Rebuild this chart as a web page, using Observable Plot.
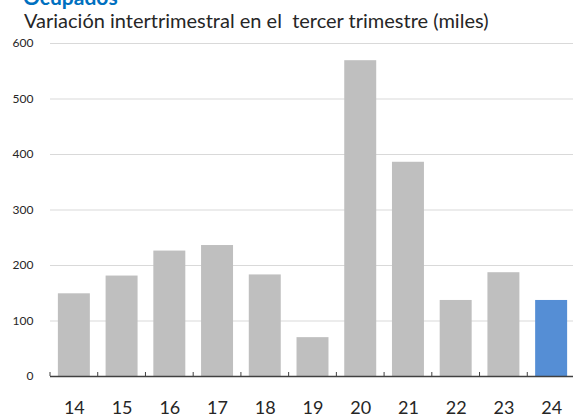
<!DOCTYPE html>
<html><head><meta charset="utf-8">
<script src="https://cdn.jsdelivr.net/npm/d3@7"></script>
<script src="https://cdn.jsdelivr.net/npm/@observablehq/plot@0.6"></script>
<style>
body{margin:0;background:#fff;overflow:hidden;}
#wrap{width:573px;height:417px;position:relative;overflow:hidden;}
#head{position:relative;height:36px;}
#title{position:absolute;left:23px;top:-14px;font:bold 21px Lato,sans-serif;color:#0070c0;line-height:21px;white-space:pre;}
#sub{position:absolute;left:24px;top:10px;font:20px Lato,sans-serif;color:#262626;line-height:20px;white-space:pre;}
</style></head><body>
<div id="wrap"><div id="head"><div id="title">Ocupados</div><div id="sub">Variación intertrimestral en el  tercer trimestre (miles)</div></div><div id="chart"></div></div>
<script>
const years = ["14","15","16","17","18","19","20","21","22","23","24"];
const values = [149, 181, 226, 236, 183, 70, 569, 386, 137, 187, 137];
const yTicks = [0, 100, 200, 300, 400, 500, 600];
const highlight = "24";

const data = years.map((y, i) => ({year: y, value: values[i]}));
const P = 0.33;

function boundaryTicks(index, scales, values, dims) {
  const x = scales.x, y = scales.y;
  const bw = x.bandwidth ? x.bandwidth() : 0;
  const step = x(years[1]) - x(years[0]);
  const g = d3.create("svg:g");
  const y0 = y(0);
  const pos = years.map(c => x(c) - (step - bw) / 2);
  pos.push(pos[pos.length - 1] + step);
  for (const p of pos) {
    g.append("line").attr("x1", p).attr("x2", p).attr("y1", y0).attr("y2", y0 - 4)
      .attr("stroke", "#404040").attr("stroke-width", 1);
  }
  return g.node();
}

const chart = Plot.plot({
  width: 573, height: 381,
  marginTop: 7, marginBottom: 41, marginLeft: 50, marginRight: -2,
  style: {fontFamily: "Lato, sans-serif", background: "#fff"},
  x: {domain: years, paddingInner: P, paddingOuter: P / 2, round: false, label: null},
  y: {domain: [0, 600], ticks: yTicks, label: null},
  marks: [
    Plot.ruleY(yTicks.filter(t => t > 0), {stroke: "#d9d9d9", strokeWidth: 1}),
    Plot.barY(data, {x: "year", y: "value", fill: d => d.year === highlight ? "#558ed5" : "#bfbfbf"}),
    Plot.ruleY([0], {stroke: "#404040", strokeWidth: 1.5}),
    boundaryTicks,
    Plot.axisY({ticks: yTicks, tickSize: 0, tickPadding: 17, fontSize: 12, color: "#262626", label: null}),
    Plot.axisX({tickSize: 0, tickPadding: 25, fontSize: 18, color: "#262626", label: null})
  ]
});
document.getElementById("chart").appendChild(chart);
</script>
</body></html>
